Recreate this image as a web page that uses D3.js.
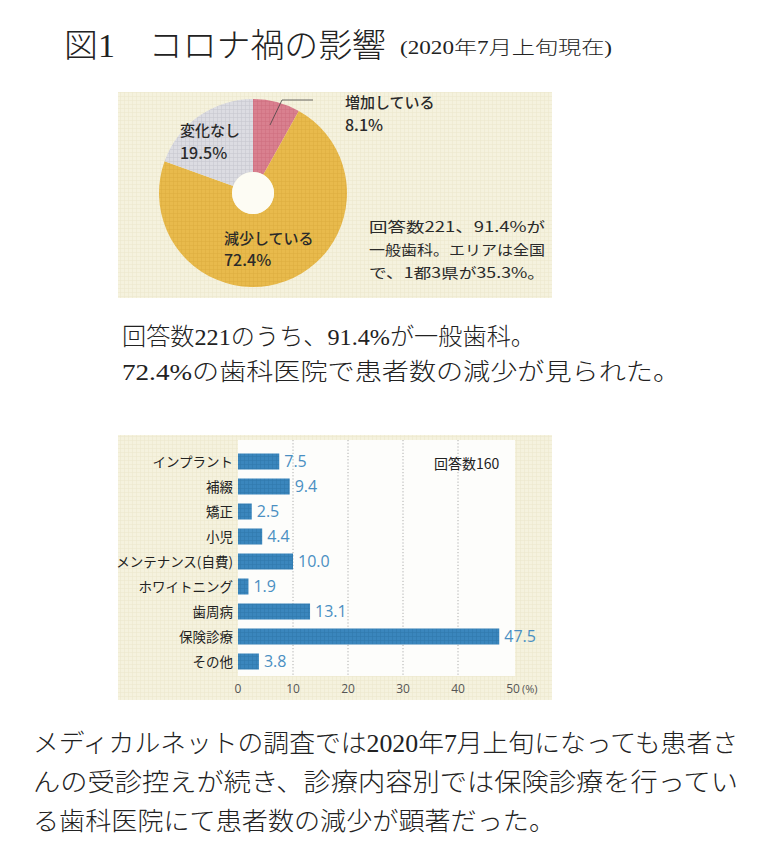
<!DOCTYPE html>
<html><head><meta charset="utf-8">
<script src="https://cdn.jsdelivr.net/npm/d3@7"></script>
<style>
html,body{margin:0;padding:0;background:#fff;}
svg{display:block;}
</style></head>
<body>
<script>
// ---- data ----
const pieLabels = ["増加している", "減少している", "変化なし"];
const pieValues = [8.1, 72.4, 19.5];
const barCategories = ["インプラント", "補綴", "矯正", "小児", "メンテナンス(自費)", "ホワイトニング", "歯周病", "保険診療", "その他"];
const barValues = [7.5, 9.4, 2.5, 4.4, 10.0, 1.9, 13.1, 47.5, 3.8];
const xTicks = [0, 10, 20, 30, 40, 50];
const titleText = "図1　コロナ禍の影響";
const subTitleText = "(2020年7月上旬現在)";
const pieNote = ["回答数221、91.4%が", "一般歯科。エリアは全国", "で、1都3県が35.3%。"];
const summary1 = ["回答数221のうち、91.4%が一般歯科。", "72.4%の歯科医院で患者数の減少が見られた。"];
const barNote = "回答数160";
const footer = ["メディカルネットの調査では2020年7月上旬になっても患者さ", "んの受診控えが続き、診療内容別では保険診療を行ってい", "る歯科医院にて患者数の減少が顕著だった。"];

const W = 760, H = 847;
const serif = "'Liberation Serif','DejaVu Serif','Noto Sans CJK JP',serif";
const sans = "'Noto Sans CJK JP','Noto Sans',sans-serif";
const latin = "'Open Sans','Noto Sans',sans-serif";
const svg = d3.select("body").append("svg").attr("width", W).attr("height", H);

// title
svg.append("text").attr("x", 64).attr("y", 57).attr("font-family", serif)
  .attr("font-size", 33).attr("font-weight", 300).attr("fill", "#222")
  .attr("textLength", 322).attr("lengthAdjust", "spacingAndGlyphs").text(titleText);
svg.append("text").attr("x", 400).attr("y", 54).attr("font-family", serif)
  .attr("font-size", 18).attr("font-weight", 300).attr("fill", "#222")
  .attr("textLength", 212).attr("lengthAdjust", "spacingAndGlyphs").text(subTitleText);

// ---- pie panel ----
const defs = svg.append("defs");
function gridPattern(id, bg, line) {
  const p = defs.append("pattern").attr("id", id).attr("patternUnits", "userSpaceOnUse")
    .attr("width", 4).attr("height", 4);
  p.append("rect").attr("width", 4).attr("height", 4).attr("fill", bg);
  p.append("path").attr("d", "M0,0.5H4M0.5,0V4").attr("stroke", line).attr("stroke-width", 0.6);
}
gridPattern("bgp", "#f5f2de", "#ece7cc");
gridPattern("pinkp", "#d9808f", "#cf6f80");
gridPattern("yelp", "#e8ba4c", "#ddae40");
gridPattern("grayp", "#dcdce2", "#c8c8d0");
gridPattern("bluep", "#3a86bd", "#3179ad");

svg.append("rect").attr("x", 118).attr("y", 92).attr("width", 434).attr("height", 206).attr("fill", "url(#bgp)");

const cx = 253, cy = 193;
const pie = d3.pie().sort(null).value(d => d);
const arc = d3.arc().innerRadius(21).outerRadius(94);
const fills = ["url(#pinkp)", "url(#yelp)", "url(#grayp)"];
const pg = svg.append("g").attr("transform", `translate(${cx},${cy})`);
pg.selectAll("path").data(pie(pieValues)).join("path")
  .attr("d", arc).attr("fill", (d, i) => fills[i]);
pg.append("circle").attr("r", 21).attr("fill", "#fdfcf4");

// leader line for small slice
svg.append("path").attr("d", "M270,125L282,100H313").attr("fill", "none")
  .attr("stroke", "#444").attr("stroke-width", 0.8);

const pieLabelPos = [[345, 108, 131], [224, 244, 266], [180, 136, 159]];
pieLabels.forEach((lab, i) => {
  const [x, y1, y2] = pieLabelPos[i];
  const t = svg.append("text").attr("font-family", sans).attr("font-size", 15)
    .attr("font-weight", 500).attr("fill", "#2a2a2a");
  t.append("tspan").attr("x", x).attr("y", y1).text(lab);
  t.append("tspan").attr("x", x).attr("y", y2).attr("font-size", 16).text(d3.format(".1f")(pieValues[i]) + "%");
});

pieNote.forEach((s, i) => {
  svg.append("text").attr("x", 369).attr("y", 232 + i * 23).attr("font-family", sans)
    .attr("font-size", 14).attr("fill", "#2a2a2a").attr("textLength", 176)
    .attr("lengthAdjust", "spacingAndGlyphs").text(s);
});

// summary text
summary1.forEach((s, i) => {
  svg.append("text").attr("x", 122).attr("y", 345 + i * 35).attr("font-family", serif)
    .attr("font-size", 24).attr("font-weight", 300).attr("fill", "#222")
    .attr("textLength", i === 0 ? 413 : 558).attr("lengthAdjust", "spacingAndGlyphs").text(s);
});

// ---- bar panel ----
svg.append("rect").attr("x", 118).attr("y", 435).attr("width", 434).attr("height", 265).attr("fill", "url(#bgp)");
const x = d3.scaleLinear().domain([0, 50]).range([238, 513]);
const y = d3.scaleBand().domain(barCategories).range([449, 674]).paddingInner(0.36).paddingOuter(0.18);
svg.append("rect").attr("x", x(0)).attr("y", 440).attr("width", x(50) - x(0) + 2).attr("height", 236).attr("fill", "#fdfdfb");

svg.append("g").selectAll("line").data(xTicks.filter(t => t > 0 && t < 50)).join("line")
  .attr("x1", d => x(d)).attr("x2", d => x(d)).attr("y1", 440).attr("y2", 676)
  .attr("stroke", "#9a9a9a").attr("stroke-width", 0.8).attr("stroke-dasharray", "1.2,2");

svg.append("g").selectAll("rect").data(barValues).join("rect")
  .attr("x", x(0)).attr("y", (d, i) => y(barCategories[i]))
  .attr("width", d => x(d) - x(0)).attr("height", y.bandwidth())
  .attr("fill", "url(#bluep)");

svg.append("g").selectAll("text").data(barValues).join("text")
  .attr("x", d => x(d) + 5).attr("y", (d, i) => y(barCategories[i]) + y.bandwidth() / 2 + 5.5)
  .attr("font-family", latin).attr("font-size", 16)
  .attr("fill", "#4a8fc2").text(d => d3.format(".1f")(d));

svg.append("g").selectAll("text").data(barCategories).join("text")
  .attr("x", 233).attr("y", d => y(d) + y.bandwidth() / 2 + 5)
  .attr("text-anchor", "end").attr("font-family", sans).attr("font-size", 13.5)
  .attr("font-weight", 400).attr("fill", "#222").text(d => d);

svg.append("g").selectAll("text").data(xTicks).join("text")
  .attr("x", d => x(d)).attr("y", 693).attr("text-anchor", "middle")
  .attr("font-family", latin).attr("font-size", 12)
  .attr("fill", "#555").text(d => d);
svg.append("text").attr("x", x(50) + 9).attr("y", 693).attr("font-family", latin)
  .attr("font-size", 11).attr("fill", "#555").text("(%)");

svg.append("text").attr("x", 434).attr("y", 469).attr("font-family", sans)
  .attr("font-size", 14).attr("fill", "#222").text(barNote);

// footer
footer.forEach((s, i) => {
  svg.append("text").attr("x", 33).attr("y", 752 + i * 39).attr("font-family", serif)
    .attr("font-size", 25.5).attr("font-weight", 300).attr("fill", "#222")
    .attr("textLength", i === 2 ? 522 : 705).attr("lengthAdjust", "spacingAndGlyphs").text(s);
});
</script>
</body></html>
